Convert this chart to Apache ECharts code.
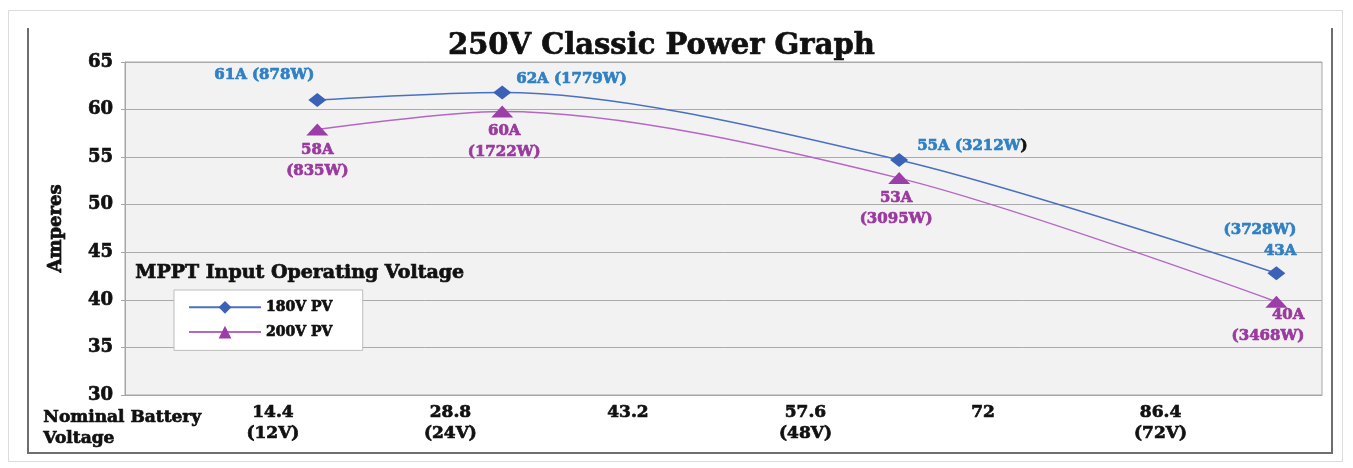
<!DOCTYPE html>
<html>
<head>
<meta charset="utf-8">
<script src="https://cdn.jsdelivr.net/npm/echarts@6/dist/echarts.min.js"></script>
<style>
html,body{margin:0;padding:0;background:#fff;}
#c{width:1353px;height:468px;}
</style>
</head>
<body>
<div id="c"></div>
<script>
// ---- data ----
const xVoltage = [18.0, 33.0, 65.2, 95.8];
const amps180 = [61.0, 61.8, 54.7, 42.8];
const amps200 = [57.9, 59.8, 52.8, 39.8];
const labels180 = ['61A (878W)', '62A (1779W)', '55A (3212W)', '(3728W)\n43A'];
const labels200 = ['58A\n(835W)', '60A\n(1722W)', '53A\n(3095W)', '40A\n(3468W)'];
const xTickValues = [14.4, 28.8, 43.2, 57.6, 72, 86.4];
const xTickLabels = ['14.4\n(12V)', '28.8\n(24V)', '43.2', '57.6\n(48V)', '72', '86.4\n(72V)'];
const seriesNames = ['180V PV', '200V PV'];

const FONT = '"DejaVu Serif", serif';
const BLUE_LINE = '#4b70c0', BLUE_MARK = '#3c62b8', BLUE_TEXT = '#2f80c4';
const PUR_LINE = '#b468c4', PUR_MARK = '#9c3ea8', PUR_TEXT = '#9a3a9e';
const HEAVY = 0.7;

const lab180 = [
  {position: 'top', offset: [-53, -2]},
  {position: 'right', offset: [0, -13]},
  {position: 'right', offset: [4, -14]},
  {position: 'top', align: 'right', offset: [20, 0]}
];
const lab200 = [
  {position: 'bottom', offset: [0, -1]},
  {position: 'bottom', offset: [2, -2]},
  {position: 'bottom', offset: [-3, -1]},
  {position: 'bottom', align: 'right', offset: [28, -8]}
];

function heavy(color) { return {textBorderColor: color, textBorderWidth: HEAVY}; }

const data180 = xVoltage.map((x, i) => ({
  value: [x, amps180[i]],
  label: Object.assign({
    show: true,
    formatter: i === 2 ? '{a|' + labels180[i].slice(0, -1) + '}{k|' + labels180[i].slice(-1) + '}' : labels180[i],
    color: BLUE_TEXT,
    textBorderColor: BLUE_TEXT, textBorderWidth: HEAVY,
    rich: {
      a: Object.assign({color: BLUE_TEXT, fontFamily: FONT, fontWeight: 'bold', fontSize: 15}, heavy(BLUE_TEXT)),
      k: Object.assign({color: '#111', fontFamily: FONT, fontWeight: 'bold', fontSize: 15}, heavy('#111'))
    }
  }, lab180[i])
}));
const data200 = xVoltage.map((x, i) => ({
  value: [x, amps200[i]],
  label: Object.assign({show: true, formatter: labels200[i], color: PUR_TEXT, textBorderColor: PUR_TEXT, textBorderWidth: HEAVY}, lab200[i])
}));

const chart = echarts.init(document.getElementById('c'), null, {renderer: 'canvas'});
chart.setOption({
  backgroundColor: '#ffffff',
  animation: false,
  title: {
    text: '250V Classic Power Graph',
    left: 443, top: 27,
    textStyle: Object.assign({fontFamily: FONT, fontWeight: 'bold', fontSize: 29, color: '#111'}, heavy('#111'))
  },
  grid: {
    left: 125, top: 62, right: 31, bottom: 73,
    show: true, backgroundColor: '#f2f2f2', borderColor: '#a6a6a6', borderWidth: 1
  },
  legend: {
    orient: 'vertical',
    left: 174, top: 290,
    data: seriesNames,
    backgroundColor: '#ffffff',
    borderColor: '#bdbdbd', borderWidth: 1,
    padding: [10, 30, 11, 14],
    itemWidth: 72, itemHeight: 16, itemGap: 10,
    textStyle: Object.assign({fontFamily: FONT, fontWeight: 'bold', fontSize: 14, color: '#111'}, heavy('#111'))
  },
  xAxis: {
    type: 'value',
    min: 2.4, max: 99.5,
    axisLine: {show: true, lineStyle: {color: '#a6a6a6'}},
    axisTick: {show: false},
    splitLine: {show: false},
    axisLabel: Object.assign({
      customValues: xTickValues,
      formatter: function (v) {
        for (let i = 0; i < xTickValues.length; i++) if (Math.abs(v - xTickValues[i]) < 1e-6) return xTickLabels[i];
        return '';
      },
      margin: 7,
      fontFamily: FONT, fontWeight: 'bold', fontSize: 17, color: '#111', lineHeight: 21
    }, heavy('#111'))
  },
  yAxis: {
    type: 'value',
    min: 30, max: 65, interval: 5,
    name: 'Amperes',
    nameLocation: 'middle', nameGap: 60, nameRotate: 90,
    nameTextStyle: Object.assign({fontFamily: FONT, fontWeight: 'bold', fontSize: 18, color: '#111'}, heavy('#111')),
    axisLine: {show: true, lineStyle: {color: '#a6a6a6'}},
    axisTick: {show: true, length: 4, lineStyle: {color: '#a6a6a6'}},
    splitLine: {show: true, lineStyle: {color: '#ababab', width: 1}},
    axisLabel: Object.assign({margin: 12, fontFamily: FONT, fontWeight: 'bold', fontSize: 18, color: '#111'}, heavy('#111'))
  },
  series: [
    {
      name: seriesNames[0], type: 'line', smooth: 0.3,
      symbol: 'diamond', symbolSize: [18, 14],
      lineStyle: {color: BLUE_LINE, width: 1.6},
      itemStyle: {color: BLUE_MARK},
      label: {fontFamily: FONT, fontWeight: 'bold', fontSize: 15, lineHeight: 21},
      data: data180, z: 3
    },
    {
      name: seriesNames[1], type: 'line', smooth: 0.3,
      symbol: 'triangle', symbolSize: [22, 12],
      lineStyle: {color: PUR_LINE, width: 1.4},
      itemStyle: {color: PUR_MARK},
      label: {fontFamily: FONT, fontWeight: 'bold', fontSize: 15, lineHeight: 21},
      data: data200, z: 2
    }
  ],
  graphic: [
    {type: 'rect', silent: true, z: -10, shape: {x: 8.5, y: 10.5, width: 1334, height: 451},
     style: {fill: 'none', stroke: '#dcdcdc', lineWidth: 1}},
    {type: 'polyline', silent: true, z: 10, shape: {points: [[28, 28], [28, 453], [1332, 453], [1332, 28]]},
     style: {fill: 'none', stroke: '#6e6e6e', lineWidth: 2}},
    {type: 'text', silent: true, z: 10, left: 135, top: 263,
     style: {text: 'MPPT Input Operating Voltage', fontFamily: FONT, fontWeight: 'bold', fontSize: 19, fill: '#111', stroke: '#111', lineWidth: HEAVY}},
    {type: 'text', silent: true, z: 10, left: 43, top: 407,
     style: {text: 'Nominal Battery\nVoltage', fontFamily: FONT, fontWeight: 'bold', fontSize: 17, lineHeight: 21, fill: '#111', stroke: '#111', lineWidth: HEAVY}}
  ]
});
</script>
</body>
</html>
